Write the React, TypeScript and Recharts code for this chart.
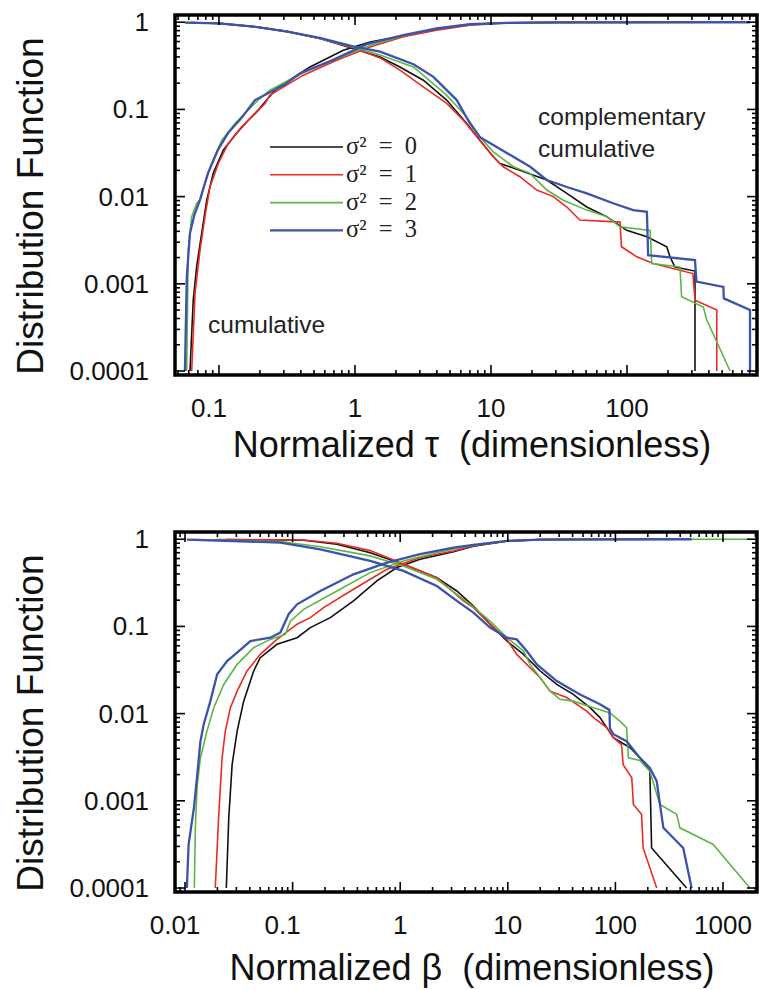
import React from "react";
import { LineChart, Line, XAxis, YAxis, ReferenceArea, Legend, Label } from "recharts";

type Pt = [number, number];

// ---------- axis ticks & labels ----------
const tauXMajor = [0.1, 1, 10, 100];
const tauXLabels = ["0.1", "1", "10", "100"];
const betaXMajor = [0.01, 0.1, 1, 10, 100, 1000];
const betaXLabels = ["0.01", "0.1", "1", "10", "100", "1000"];
const yMajor = [0.0001, 0.001, 0.01, 0.1, 1];
const yLabels = ["0.0001", "0.001", "0.01", "0.1", "1"];

const tauXDomain: [number, number] = [0.0475, 903];
const betaXDomain: [number, number] = [0.00807, 2070];
const yDomain: [number, number] = [0.00009, 1.21];

// ---------- legend ----------
const legendLabels = ["σ\u00B2\u2002=\u20020", "σ\u00B2\u2002=\u20021", "σ\u00B2\u2002=\u20022", "σ\u00B2\u2002=\u20023"];

// ---------- normalized tau : cumulative ----------
const tauCum0: Pt[] = [[0.0612, 0.0001], [0.0647, 0.00065], [0.0686, 0.0016], [0.0746, 0.0038], [0.0813, 0.0091], [0.0908, 0.0186], [0.1076, 0.034], [0.135, 0.0535], [0.164, 0.075], [0.194, 0.098], [0.224, 0.128], [0.265, 0.174], [0.467, 0.307], [0.82, 0.478], [1.29, 0.594], [2.27, 0.70], [3.98, 0.83], [7.0, 0.94], [13, 0.985], [30, 0.997], [316, 0.999]];
const tauCum1: Pt[] = [[0.063, 0.0001], [0.0667, 0.00078], [0.0725, 0.0024], [0.0789, 0.0059], [0.0859, 0.0129], [0.0989, 0.024], [0.117, 0.0407], [0.147, 0.063], [0.184, 0.089], [0.218, 0.117], [0.237, 0.146], [0.417, 0.247], [0.733, 0.367], [1.29, 0.52], [2.27, 0.68], [3.98, 0.81], [7.0, 0.924], [13, 0.98], [30, 0.996], [457, 0.999]];
const tauCum2: Pt[] = [[0.0579, 0.0001], [0.0594, 0.0024], [0.063, 0.0059], [0.0686, 0.0084], [0.0725, 0.0091], [0.0789, 0.0143], [0.0883, 0.024], [0.1047, 0.044], [0.131, 0.069], [0.155, 0.09], [0.194, 0.128], [0.237, 0.166], [0.417, 0.265], [0.733, 0.38], [1.29, 0.54], [2.27, 0.70], [3.98, 0.84], [7.0, 0.945], [13, 0.985], [30, 0.997], [572, 0.999]];
const tauCum3: Pt[] = [[0.0562, 0.0001], [0.058, 0.0012], [0.0612, 0.0038], [0.066, 0.0062], [0.0724, 0.0091], [0.083, 0.0186], [0.098, 0.034], [0.1165, 0.0535], [0.1476, 0.081], [0.184, 0.128], [0.224, 0.15], [0.3, 0.19], [0.394, 0.258], [0.692, 0.37], [1.22, 0.56], [2.27, 0.71], [3.98, 0.847], [7.0, 0.948], [13.2, 0.985], [31.6, 0.997], [802, 0.999]];

// ---------- normalized tau : complementary cumulative ----------
const tauComp0: Pt[] = [[0.0612, 0.99], [0.1, 0.97], [0.18, 0.89], [0.32, 0.78], [0.55, 0.65], [0.97, 0.5], [1.53, 0.40], [2.14, 0.307], [3.18, 0.216], [4.72, 0.128], [6.63, 0.069], [8.3, 0.044], [10.4, 0.0286], [11.65, 0.024], [16.3, 0.0201], [25.7, 0.0155], [36.1, 0.0109], [50.6, 0.0076], [70.8, 0.0059], [99.5, 0.0041], [140, 0.00347], [196, 0.00266], [207, 0.00204], [225, 0.00156], [316, 0.0014], [316, 0.0001]];
const tauComp1: Pt[] = [[0.063, 0.99], [0.1, 0.97], [0.18, 0.89], [0.32, 0.78], [0.55, 0.65], [0.97, 0.51], [1.53, 0.39], [2.14, 0.282], [3.18, 0.181], [4.72, 0.117], [6.26, 0.075], [8.3, 0.044], [10.4, 0.0286], [12.3, 0.022], [16.3, 0.0169], [21.7, 0.0119], [28.7, 0.01], [36.1, 0.0076], [45, 0.0054], [88.8, 0.0051], [91, 0.00266], [118, 0.00204], [156, 0.00171], [305, 0.00131], [316, 0.00065], [457, 0.0005], [457, 0.0001]];
const tauComp2: Pt[] = [[0.0579, 0.99], [0.1, 0.97], [0.18, 0.89], [0.32, 0.78], [0.55, 0.65], [0.97, 0.52], [1.53, 0.42], [2.69, 0.307], [4.72, 0.146], [6.63, 0.082], [8.3, 0.048], [10.4, 0.0326], [14.6, 0.022], [19.4, 0.0185], [25.7, 0.0119], [34, 0.0091], [50.6, 0.007], [70.8, 0.0059], [88.8, 0.0045], [148, 0.0041], [152, 0.00171], [245, 0.00156], [252, 0.00071], [364, 0.00054], [385, 0.00039], [572, 0.0001]];
const tauComp3: Pt[] = [[0.0562, 0.99], [0.1, 0.97], [0.18, 0.89], [0.32, 0.78], [0.55, 0.66], [0.97, 0.53], [1.53, 0.46], [2.69, 0.33], [3.77, 0.236], [5.6, 0.128], [7.0, 0.069], [8.3, 0.048], [11.0, 0.037], [14.6, 0.0286], [19.4, 0.022], [25.7, 0.0155], [36.1, 0.0129], [50.6, 0.0109], [79, 0.0084], [111, 0.007], [140, 0.0067], [143, 0.00213], [316, 0.00187], [324, 0.00106], [511, 0.00092], [515, 0.00068], [802, 0.0005], [802, 0.0001]];

// ---------- normalized beta : cumulative ----------
const betaCum0: Pt[] = [[0.0242, 0.0001], [0.0255, 0.00064], [0.0274, 0.0026], [0.0305, 0.0063], [0.0351, 0.0139], [0.0435, 0.0308], [0.05, 0.0438], [0.0716, 0.0623], [0.11, 0.0743], [0.146, 0.0969], [0.224, 0.126], [0.368, 0.196], [0.607, 0.333], [0.932, 0.473], [1.53, 0.589], [3.13, 0.72], [4.79, 0.83], [9.8, 0.95], [20, 0.99], [50, 0.997], [459, 0.999]];
const betaCum1: Pt[] = [[0.0191, 0.0001], [0.0206, 0.0007], [0.0221, 0.0031], [0.0237, 0.0063], [0.0264, 0.0117], [0.0305, 0.0181], [0.0377, 0.0308], [0.05, 0.0478], [0.0716, 0.071], [0.11, 0.106], [0.146, 0.126], [0.194, 0.164], [0.368, 0.267], [0.753, 0.453], [1.53, 0.617], [3.13, 0.734], [4.79, 0.84], [9.8, 0.955], [20, 0.99], [50, 0.997], [242, 0.999]];
const betaCum2: Pt[] = [[0.0122, 0.0001], [0.0125, 0.000535], [0.013, 0.00154], [0.0139, 0.0031], [0.016, 0.0063], [0.0185, 0.0117], [0.0229, 0.0216], [0.0305, 0.0367], [0.0435, 0.0571], [0.062, 0.071], [0.0856, 0.081], [0.0953, 0.115], [0.1265, 0.157], [0.258, 0.255], [0.526, 0.414], [1.07, 0.563], [2.19, 0.70], [4.47, 0.84], [9.8, 0.955], [20, 0.99], [50, 0.997], [1780, 0.999]];
const betaCum3: Pt[] = [[0.0104, 0.0001], [0.0108, 0.000316], [0.0121, 0.00083], [0.013, 0.002], [0.0139, 0.0048], [0.0149, 0.0075], [0.0172, 0.0139], [0.0199, 0.0282], [0.0246, 0.0401], [0.0305, 0.05], [0.0405, 0.068], [0.062, 0.0743], [0.0769, 0.085], [0.0918, 0.138], [0.11, 0.179], [0.181, 0.255], [0.368, 0.396], [0.753, 0.54], [1.53, 0.673], [3.13, 0.80], [4.79, 0.86], [9.8, 0.957], [20, 0.99], [50, 0.997], [511, 0.999]];

// ---------- normalized beta : complementary cumulative ----------
const betaComp0: Pt[] = [[0.0242, 0.99], [0.1265, 0.974], [0.258, 0.876], [0.526, 0.70], [1.07, 0.516], [2.19, 0.363], [3.36, 0.255], [4.79, 0.171], [6.85, 0.106], [9.8, 0.068], [14.0, 0.0478], [20, 0.0308], [28.5, 0.0216], [40.6, 0.0166], [58.1, 0.0117], [71.9, 0.009], [83, 0.0069], [95.7, 0.0053], [137, 0.00406], [169, 0.00311], [209, 0.00219], [217, 0.000288], [459, 0.0001]];
const betaComp1: Pt[] = [[0.0191, 0.99], [0.1265, 0.98], [0.258, 0.9], [0.526, 0.74], [1.07, 0.52], [2.19, 0.363], [3.87, 0.196], [4.79, 0.164], [6.85, 0.106], [9.8, 0.071], [12.1, 0.0478], [15.0, 0.0367], [20, 0.0258], [24.7, 0.0181], [35.3, 0.0153], [54.1, 0.0107], [62.6, 0.009], [83, 0.0069], [95.7, 0.0053], [114, 0.0044], [118, 0.0026], [142, 0.00184], [147, 0.00091], [175, 0.0007], [181, 0.000288], [242, 0.0001]];
const betaComp2: Pt[] = [[0.0122, 0.99], [0.0769, 0.94], [0.181, 0.82], [0.526, 0.644], [1.07, 0.494], [2.19, 0.347], [4.47, 0.179], [6.85, 0.115], [9.8, 0.0743], [14.0, 0.0522], [16.1, 0.0367], [20, 0.0258], [24.7, 0.0181], [30.6, 0.0146], [40.6, 0.0139], [62.6, 0.0117], [89.1, 0.0102], [110, 0.0082], [127, 0.0069], [132, 0.00311], [169, 0.0029], [209, 0.00219], [259, 0.00091], [371, 0.0007], [398, 0.00049], [811, 0.000316], [1780, 0.0001]];
const betaComp3: Pt[] = [[0.0104, 0.99], [0.0769, 0.916], [0.181, 0.767], [0.526, 0.563], [1.07, 0.433], [2.19, 0.291], [3.36, 0.196], [4.79, 0.144], [6.85, 0.0969], [9.8, 0.0743], [12.1, 0.071], [15.0, 0.0522], [18.6, 0.0367], [28.5, 0.0236], [46.9, 0.0166], [71.9, 0.0128], [88, 0.011], [89, 0.0068], [95.7, 0.0058], [127, 0.00483], [169, 0.00311], [209, 0.00239], [242, 0.00168], [279, 0.00049], [427, 0.000288], [511, 0.0001]];

// ---------- styles ----------
const COLORS = ["#111111", "#ec2a24", "#5cb644", "#3c52ab"];
const WIDTHS = [1.6, 1.6, 1.6, 2.3];
const SANS = "'Liberation Sans', Arial, Helvetica, sans-serif";
const SERIF = "'Liberation Serif', 'Times New Roman', serif";
const PLOT_W = 582;
const PLOT_H = 360;

const isMajor = (v: number) => Math.abs(Math.log10(v) - Math.round(Math.log10(v))) < 1e-6;

function logTicks(domain: [number, number]): number[] {
  const out: number[] = [];
  const lo = Math.floor(Math.log10(domain[0]));
  const hi = Math.ceil(Math.log10(domain[1]));
  for (let d = lo; d <= hi; d++) {
    for (let m = 1; m <= 9; m++) {
      const v = Number((m * Math.pow(10, d)).toPrecision(6));
      if (v >= domain[0] && v <= domain[1]) out.push(v);
    }
  }
  return out;
}

const labelFor = (v: number, majors: number[], labels: string[]) => {
  const i = majors.findIndex((m) => Math.abs(m - v) / m < 1e-6);
  return i >= 0 ? labels[i] : null;
};

const XTick = (props: any) => {
  const { x, y, payload, majors, labels } = props;
  const v = payload.value;
  const len = isMajor(v) ? 10 : 5;
  const lab = labelFor(v, majors, labels);
  const dx = lab && lab.startsWith("0.") ? -10 : 0;
  return (
    <g>
      <line x1={x} x2={x} y1={y} y2={y - len} stroke="#000" strokeWidth={1.6} />
      <line x1={x} x2={x} y1={y - PLOT_H} y2={y - PLOT_H + len} stroke="#000" strokeWidth={1.6} />
      {lab && (
        <text x={x + dx} y={y + 42} textAnchor="middle" fontSize={26} fontFamily={SANS} fill="#111">
          {lab}
        </text>
      )}
    </g>
  );
};

const YTick = (props: any) => {
  const { x, y, payload } = props;
  const v = payload.value;
  const len = isMajor(v) ? 10 : 5;
  const lab = labelFor(v, yMajor, yLabels);
  return (
    <g>
      <line x1={x} x2={x + len} y1={y} y2={y} stroke="#000" strokeWidth={1.6} />
      <line x1={x + PLOT_W} x2={x + PLOT_W - len} y1={y} y2={y} stroke="#000" strokeWidth={1.6} />
      {lab && (
        <text x={x - 26} y={y + 9} textAnchor="end" fontSize={26} fontFamily={SANS} fill="#111">
          {lab}
        </text>
      )}
    </g>
  );
};

const renderLegend = () => (
  <svg width={190} height={112} style={{ overflow: "visible" }}>
    {legendLabels.map((lab, i) => {
      const cy = 18 + i * 27.8;
      return (
        <g key={lab}>
          <line x1={8} x2={81} y1={cy} y2={cy} stroke={COLORS[i]} strokeWidth={WIDTHS[i]} />
          <text x={84} y={cy + 7} fontSize={24.5} fontFamily={SERIF} fill="#222" style={{ whiteSpace: "pre" }}>
            {lab}
          </text>
        </g>
      );
    })}
  </svg>
);

type PanelProps = {
  xDomain: [number, number];
  xMajor: number[];
  xLabels: string[];
  cum: Pt[][];
  comp: Pt[][];
  xTitle: string;
  xTitleDy: number;
  showLegend: boolean;
};

function Panel({ xDomain, xMajor, xLabels, cum, comp, xTitle, xTitleDy, showLegend }: PanelProps) {
  const xTicks = logTicks(xDomain);
  const yTicks = logTicks(yDomain);
  const series: { pts: Pt[]; i: number }[] = [];
  for (let i = 0; i < 4; i++) {
    series.push({ pts: cum[i], i });
    series.push({ pts: comp[i], i });
  }
  return (
    <LineChart width={759} height={473} margin={{ top: 15, right: 2, bottom: 0, left: 0 }}>
      <XAxis
        type="number"
        dataKey="x"
        scale="log"
        domain={xDomain}
        allowDataOverflow
        ticks={xTicks}
        interval={0}
        tickSize={0}
        tickMargin={0}
        tickLine={false}
        axisLine={false}
        height={98}
        tick={(p: any) => <XTick {...p} majors={xMajor} labels={xLabels} />}
        label={
          <Label
            content={(lp: any) => {
              const vb = lp.viewBox || {};
              return (
                <text
                  x={vb.x + vb.width / 2 + 6}
                  y={vb.y + xTitleDy}
                  textAnchor="middle"
                  fontSize={36}
                  fontFamily={SANS}
                  fill="#111"
                  style={{ whiteSpace: "pre" }}
                >
                  {xTitle}
                </text>
              );
            }}
          />
        }
      />
      <YAxis
        type="number"
        dataKey="y"
        scale="log"
        domain={yDomain}
        allowDataOverflow
        ticks={yTicks}
        interval={0}
        tickSize={0}
        tickMargin={0}
        tickLine={false}
        axisLine={false}
        width={175}
        tick={(p: any) => <YTick {...p} />}
        label={
          <Label
            content={(lp: any) => {
              const vb = lp.viewBox || {};
              const cx = vb.x + 43;
              const cy = vb.y + vb.height / 2 + 11;
              return (
                <text
                  x={cx}
                  y={cy}
                  transform={`rotate(-90, ${cx}, ${cy})`}
                  textAnchor="middle"
                  fontSize={37}
                  fontFamily={SANS}
                  fill="#111"
                >
                  Distribution Function
                </text>
              );
            }}
          />
        }
      />
      <ReferenceArea
        x1={xDomain[0]}
        x2={xDomain[1]}
        y1={yDomain[0]}
        y2={yDomain[1]}
        fill="none"
        fillOpacity={0}
        stroke="#000"
        strokeWidth={3.5}
        ifOverflow="visible"
      />
      {series.map(({ pts, i }, k) => (
        <Line
          key={k}
          data={pts.map(([x, y]) => ({ x, y }))}
          dataKey="y"
          type="linear"
          stroke={COLORS[i]}
          strokeWidth={WIDTHS[i]}
          dot={false}
          activeDot={false}
          legendType="none"
          isAnimationActive={false}
        />
      ))}
      {showLegend && (
        <Legend
          layout="horizontal"
          verticalAlign="middle"
          align="center"
          content={renderLegend}
          wrapperStyle={{ position: "absolute", left: 262, top: 129, width: 190, height: 112 }}
        />
      )}
    </LineChart>
  );
}

export default function App() {
  return (
    <div style={{ position: "absolute", left: 0, top: 0, width: 759, height: 990, background: "#fff" }}>
      <div style={{ position: "absolute", left: 0, top: 0 }}>
        <Panel
          xDomain={tauXDomain}
          xMajor={tauXMajor}
          xLabels={tauXLabels}
          cum={[tauCum0, tauCum1, tauCum2, tauCum3]}
          comp={[tauComp0, tauComp1, tauComp2, tauComp3]}
          xTitle={"Normalized \u03C4\u00A0 (dimensionless)"}
          xTitleDy={82}
          showLegend
        />
      </div>
      <div style={{ position: "absolute", left: 0, top: 517 }}>
        <Panel
          xDomain={betaXDomain}
          xMajor={betaXMajor}
          xLabels={betaXLabels}
          cum={[betaCum0, betaCum1, betaCum2, betaCum3]}
          comp={[betaComp0, betaComp1, betaComp2, betaComp3]}
          xTitle={"Normalized \u03B2\u00A0 (dimensionless)"}
          xTitleDy={88}
          showLegend={false}
        />
      </div>
      <svg
        width={759}
        height={990}
        style={{ position: "absolute", left: 0, top: 0, pointerEvents: "none" }}
      >
        <text x={538} y={125} fontSize={24.5} fontFamily={SANS} fill="#222">complementary</text>
        <text x={538} y={157} fontSize={24.5} fontFamily={SANS} fill="#222">cumulative</text>
        <text x={208} y={333} fontSize={24.5} fontFamily={SANS} fill="#222">cumulative</text>
      </svg>
    </div>
  );
}
